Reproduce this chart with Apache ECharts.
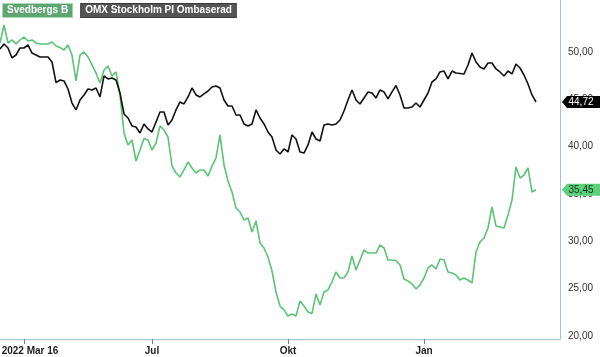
<!DOCTYPE html>
<html>
<head>
<meta charset="utf-8">
<script src="https://cdn.jsdelivr.net/npm/echarts@6/dist/echarts.min.js"></script>
<style>html,body{margin:0;padding:0;background:#fff;}#c{width:600px;height:357px;}</style>
</head>
<body>
<div id="c"></div>
<script>
// trading-day slots (index positions); the last slots are empty space up to the axis
const slotCount = 141;
const categories = Array.from({length: slotCount}, (_, i) => String(i));

const tickIndex = [6, 38, 72, 106];
const tickText = ['2022 Mar 16', 'Jul', 'Okt', 'Jan'];
const yTicks = [20, 25, 30, 35, 40, 45, 50];

const svedbergs = [
  50.95, 52.85, 50.95, 51.27, 50.85, 51.27, 51.58, 51.16, 51.27, 50.95,
  50.85, 50.85, 50.85, 51.06, 50.63, 50.48, 50.21, 50.74, 49.68, 46.94,
  49.68, 50.00, 49.47, 48.63, 47.78, 46.73, 48.10, 48.52, 47.47, 47.89,
  45.46, 41.45, 40.18, 40.71, 38.49, 39.65, 40.87, 40.71, 39.65, 40.39,
  42.19, 41.76, 41.02, 37.96, 37.22, 36.80, 37.54, 38.38, 37.75, 37.22,
  37.54, 37.54, 36.91, 37.96, 38.81, 41.24, 38.07, 36.38, 35.22, 33.53,
  33.10, 32.26, 32.47, 30.99, 32.15, 29.83, 29.30, 28.35, 26.87, 24.66,
  23.18, 22.76, 22.12, 22.33, 22.12, 23.71, 23.18, 22.54, 22.39, 24.45,
  23.28, 24.66, 24.87, 25.71, 26.77, 26.13, 26.13, 26.77, 28.46, 26.98,
  28.04, 29.09, 28.77, 28.77, 28.77, 29.62, 29.30, 28.04, 28.04, 27.98,
  27.51, 26.03, 25.82, 25.50, 24.97, 25.40, 26.13, 27.19, 27.51, 27.09,
  28.14, 28.04, 26.77, 26.66, 26.45, 25.92, 26.13, 25.92, 25.61, 28.88,
  29.94, 30.36, 31.41, 33.63, 31.63, 31.52, 31.41, 32.79, 34.37, 37.86,
  36.69, 37.01, 37.75, 35.22, 35.45
];

const omx = [
  50.32, 50.85, 50.42, 49.37, 49.68, 50.42, 50.42, 50.74, 49.89, 49.68,
  49.47, 49.47, 49.47, 48.94, 46.76, 47.04, 46.94, 46.09, 44.61, 43.88,
  44.93, 45.46, 46.09, 45.99, 46.20, 45.25, 47.47, 47.15, 47.25, 47.04,
  45.67, 43.45, 43.03, 42.19, 42.08, 41.45, 42.40, 41.87, 41.55, 42.61,
  43.66, 43.66, 42.29, 42.82, 43.88, 44.72, 44.51, 45.25, 46.20, 45.46,
  45.25, 45.57, 45.88, 46.30, 46.41, 46.20, 44.93, 44.30, 44.30, 43.35,
  43.35, 42.40, 42.19, 42.40, 43.88, 43.03, 42.40, 41.55, 41.02, 39.65,
  39.23, 39.76, 39.44, 41.24, 40.81, 39.44, 39.33, 40.18, 41.55, 40.81,
  40.60, 42.29, 42.40, 42.29, 42.40, 42.82, 43.77, 44.93, 45.99, 44.93,
  44.51, 45.14, 45.78, 45.67, 45.14, 45.99, 45.78, 45.04, 45.78, 46.46,
  45.46, 44.09, 44.09, 44.19, 44.61, 44.19, 44.93, 45.67, 46.83, 47.15,
  47.89, 47.99, 47.15, 47.99, 47.78, 47.73, 47.68, 48.63, 49.89, 48.94,
  48.42, 48.21, 48.84, 48.84, 48.21, 47.89, 47.47, 47.99, 47.68, 48.73,
  48.31, 47.57, 46.62, 45.46, 44.72
];

const names = ['Svedbergs B', 'OMX Stockholm PI Ombaserad'];

const GREEN = '#5cc377';
const BLACK = '#111111';
const AXIS = '#a3c3d9';

function fmt(v) { return v.toFixed(2).replace('.', ','); }

function tag(values, bg, fg) {
  const v = values[values.length - 1];
  return {
    silent: true,
    animation: false,
    data: [{
      coord: [slotCount - 1, v],
      value: v,
      symbol: 'path://M0,6 L5,0 L40,0 L40,12 L5,12 Z',
      symbolSize: [40, 12],
      symbolKeepAspect: false,
      symbolOffset: [22, 0],
      itemStyle: { color: bg },
      label: {
        show: true,
        position: 'inside',
        offset: [-1, 0],
        formatter: fmt(v),
        color: fg,
        fontSize: 10,
        fontFamily: 'Arial, "Liberation Sans", sans-serif'
      }
    }]
  };
}

const chart = echarts.init(document.getElementById('c'), null, { renderer: 'canvas' });

chart.setOption({
  animation: false,
  backgroundColor: '#ffffff',
  grid: { left: 0, right: 40, top: 0, bottom: 18, containLabel: false, outerBoundsMode: 'none' },
  legend: {
    left: -2,
    top: 3,
    padding: 0,
    icon: 'none',
    itemWidth: 0,
    itemHeight: 0,
    itemGap: 3,
    selectedMode: false,
    data: [
      { name: names[0], textStyle: { color: '#ffffff', backgroundColor: '#5fa572', borderColor: '#a9dbb6', borderWidth: 1, padding: [1, 4, 0, 4] } },
      { name: names[1], textStyle: { color: '#ffffff', backgroundColor: '#555555', borderColor: '#3a3a3a', borderWidth: 1, padding: [1, 4, 0, 4] } }
    ],
    textStyle: { fontSize: 10, fontWeight: 'bold', fontFamily: 'Arial, "Liberation Sans", sans-serif', lineHeight: 12 }
  },
  xAxis: {
    type: 'category',
    data: categories,
    boundaryGap: false,
    axisLine: { show: true, lineStyle: { color: AXIS, width: 1 } },
    axisTick: {
      show: true,
      length: 5,
      lineStyle: { color: '#5a8fb3' },
      interval: (i) => tickIndex.indexOf(i) >= 0
    },
    axisLabel: {
      show: true,
      margin: 7,
      interval: (i) => tickIndex.indexOf(i) >= 0,
      formatter: (val, i) => {
        const k = tickIndex.indexOf(Number(val));
        if (k < 0) return '';
        return k === 0 ? '{f|' + tickText[k] + '}' : tickText[k];
      },
      color: '#1e1e1e',
      fontSize: 10,
      fontWeight: 'bold',
      fontFamily: 'Arial, "Liberation Sans", sans-serif',
      rich: {
        f: { padding: [0, 0, 0, 12], color: '#1e1e1e', fontSize: 10, fontWeight: 'bold', fontFamily: 'Arial, "Liberation Sans", sans-serif' }
      }
    },
    splitLine: { show: false }
  },
  yAxis: {
    type: 'value',
    position: 'right',
    min: 19.69,
    max: 55.49,
    axisLine: { show: true, lineStyle: { color: AXIS, width: 1 } },
    axisTick: { show: false },
    splitLine: { show: false },
    axisLabel: {
      show: true,
      customValues: yTicks,
      margin: 8,
      formatter: (v) => fmt(v),
      color: '#333333',
      fontSize: 10,
      fontFamily: 'Arial, "Liberation Sans", sans-serif'
    }
  },
  series: [
    {
      name: names[0],
      type: 'line',
      data: svedbergs,
      showSymbol: false,
      symbol: 'none',
      color: GREEN,
      lineStyle: { color: GREEN, width: 1.6 },
      z: 3,
      markPoint: tag(svedbergs, '#5ccf7b', '#14321c')
    },
    {
      name: names[1],
      type: 'line',
      data: omx,
      showSymbol: false,
      symbol: 'none',
      color: BLACK,
      lineStyle: { color: BLACK, width: 1.6 },
      z: 4,
      markPoint: tag(omx, '#000000', '#ffffff')
    }
  ]
});
</script>
</body>
</html>
